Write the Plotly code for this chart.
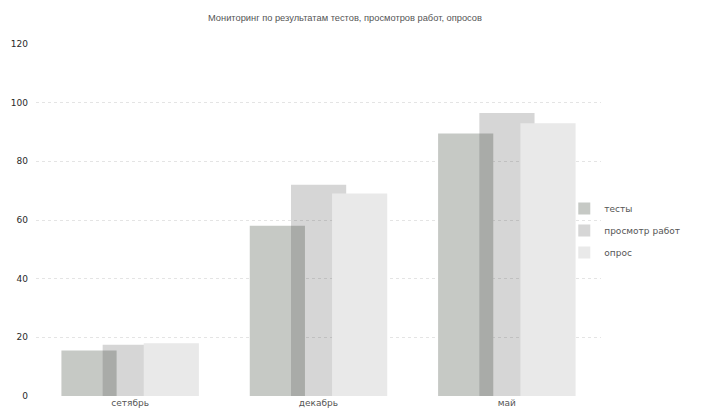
import plotly.graph_objects as go

categories = ["сетябрь", "декабрь", "май"]
tests = [15.5, 58, 89.5]
reviews = [17.5, 72, 96.5]
surveys = [18, 69, 93]
series_names = ["тесты", "просмотр работ", "опрос"]
y_ticks = [0, 20, 40, 60, 80, 100, 120]

idx = list(range(len(categories)))
W = 0.293
fig = go.Figure()
fig.add_trace(go.Bar(x=idx, y=tests, name=series_names[0], width=W, offset=-0.365,
                     marker=dict(color="rgb(198,201,197)", line=dict(width=0)), legendgroup="a"))
fig.add_trace(go.Bar(x=idx, y=reviews, name=series_names[1], width=W, offset=-0.146,
                     marker=dict(color="rgba(60,62,60,0.21)", line=dict(width=0)), legendgroup="b"))
fig.add_trace(go.Bar(x=idx, y=surveys, name=series_names[2], width=W, offset=0.072,
                     marker=dict(color="rgb(233,233,233)", line=dict(width=0)), legendgroup="c"))

fig.update_layout(
    width=715, height=417,
    margin=dict(l=36, r=114, t=44, b=21),
    barmode="overlay",
    paper_bgcolor="white", plot_bgcolor="white",
    font=dict(family="DejaVu Sans", size=9, color="#444"),
    title=dict(text="Мониторинг по результатам тестов, просмотров работ, опросов",
               x=0.4825, xanchor="center", y=0.957, yanchor="middle",
               font=dict(family="Liberation Sans", size=9.3, color="#555")),
    xaxis=dict(tickmode="array", tickvals=idx, ticktext=categories, range=[-0.5, 2.5],
               showline=False, ticks="", automargin=False, tickfont=dict(size=9, color="#555")),
    yaxis=dict(range=[0, 120], tickvals=y_ticks, showgrid=True, gridcolor="#e4e4e4",
               griddash="dot", zeroline=False, showline=False, ticklabelstandoff=7,
               automargin=False, tickfont=dict(size=9, color="#2a2a2a")),
    legend=dict(x=0.935, xanchor="left", y=0.47, yanchor="middle", tracegroupgap=3,
                itemwidth=30, font=dict(size=9, color="#555"), bgcolor="rgba(0,0,0,0)"),
)
fig.write_html("out.html", config={"displayModeBar": False},
               post_script="document.body.style.margin='0';")
